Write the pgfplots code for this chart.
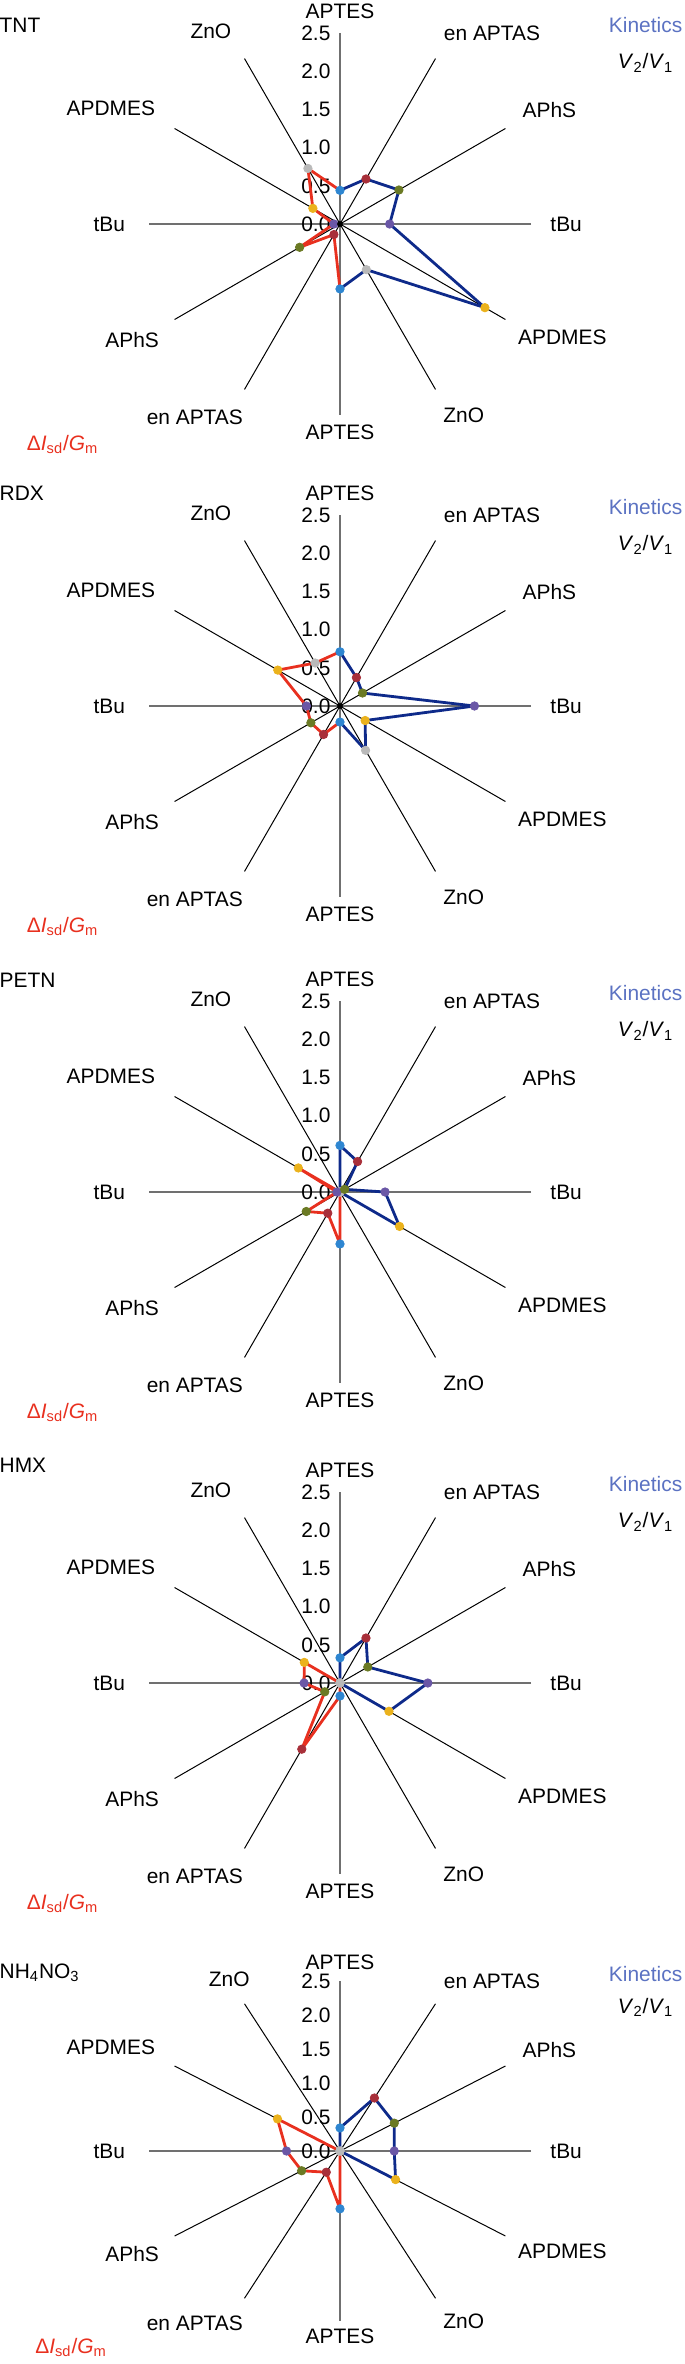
\documentclass[border=0pt]{standalone}
\usepackage{fontspec}
\setmainfont{Liberation Sans}
\usepackage{pgfplots}
\pgfplotsset{compat=1.18}
\definecolor{cAPTES}{HTML}{2E86D1}
\definecolor{cEN}{HTML}{A8303A}
\definecolor{cAPHS}{HTML}{6B7A24}
\definecolor{cTBU}{HTML}{6A57A6}
\definecolor{cAPDMES}{HTML}{EBB21C}
\definecolor{cZNO}{HTML}{B9B9B9}
\definecolor{kinline}{HTML}{0E2A8A}
\definecolor{disline}{HTML}{E8301F}
\definecolor{kintext}{HTML}{5B72C2}
\definecolor{spokegray}{HTML}{707070}

\pgfplotsset{
  radar/.style={hide axis, clip=false, anchor=center,
    xmin=-2.6, xmax=2.6, ymin=-2.6, ymax=2.6, x=38.2bp, y=38.2bp},
  hspoke/.style={draw=spokegray, line width=0.6bp, data cs=polar, mark=none},
  dspoke/.style={draw=black, line width=0.5bp, data cs=polar, mark=none},
  kin/.style={draw=kinline, line width=1.4bp, data cs=polar, mark=none, line join=round},
  dis/.style={draw=disline, line width=1.4bp, data cs=polar, mark=none, line join=round},
  dot/.style={only marks, data cs=polar, mark=*, mark size=2.1bp, mark options={draw=#1, fill=#1}},
}
\tikzset{lab/.style={font=\fontsize{10.5}{12}\selectfont, inner sep=0pt}}

% spokes, category names, ticks and the two series labels
\newcommand{\radarframe}[4]{%
  \addplot[hspoke] coordinates {(90,2.5) (270,2.5)};
  \addplot[hspoke] coordinates {(0,2.5) (180,2.5)};
  \addplot[dspoke] coordinates {(30,2.5) (210,2.5)};
  \addplot[dspoke] coordinates {(60,2.5) (240,2.5)};
  \addplot[dspoke] coordinates {(120,2.5) (300,2.5)};
  \addplot[dspoke] coordinates {(150,2.5) (330,2.5)};
  \node[lab] at (axis cs:0,2.78) {APTES};
  \node[lab] at (axis cs:#3,2.52) {ZnO};
  \node[lab] at (axis cs:1.99,2.50) {en APTAS};
  \node[lab] at (axis cs:-3.00,1.52) {APDMES};
  \node[lab] at (axis cs:2.74,1.49) {APhS};
  \node[lab] at (axis cs:-3.02,0) {tBu};
  \node[lab] at (axis cs:2.96,0) {tBu};
  \node[lab] at (axis cs:-2.72,-1.52) {APhS};
  \node[lab] at (axis cs:2.91,-1.48) {APDMES};
  \node[lab] at (axis cs:-1.90,-2.53) {en APTAS};
  \node[lab] at (axis cs:1.62,-2.51) {ZnO};
  \node[lab] at (axis cs:0,-2.73) {APTES};
  \node[lab, anchor=east] at (axis cs:-0.12,0) {0.0};
  \node[lab, anchor=east] at (axis cs:-0.12,0.5) {0.5};
  \node[lab, anchor=east] at (axis cs:-0.12,1.0) {1.0};
  \node[lab, anchor=east] at (axis cs:-0.12,1.5) {1.5};
  \node[lab, anchor=east] at (axis cs:-0.12,2.0) {2.0};
  \node[lab, anchor=east] at (axis cs:-0.12,2.5) {2.5};
  \node[lab, anchor=west] at (axis cs:-4.46,#2) {#1};
  \node[lab, text=kintext] at (axis cs:4.0,2.60) {Kinetics};
  \node[lab] at (axis cs:4.0,2.11) {\textit{V}\textsubscript{2}/\textit{V}\textsubscript{1}};
  \node[lab, text=disline] at (axis cs:#4,-2.89) {Δ\textit{I}\textsubscript{sd}/\textit{G}\textsubscript{m}};
}

\begin{document}
\begin{tikzpicture}

% TNT
\begin{axis}[radar, at={(170bp,-112bp)}]
\radarframe{TNT}{2.60}{-1.69}{-3.63}
\addplot[kin] coordinates {(90,0.44) (60,0.68) (30,0.89) (0,0.65) (-30,2.19) (-60,0.69) (-90,0.85)};
\addplot[dis] coordinates {(90,0.44) (120,0.84) (150,0.41) (180,0.08) (210,0.61) (240,0.16) (270,0.85)};
\addplot[dot=cAPTES] coordinates {(90,0.44) (270,0.85)};
\addplot[dot=cEN] coordinates {(60,0.68) (240,0.16)};
\addplot[dot=cAPHS] coordinates {(30,0.89) (210,0.61)};
\addplot[dot=cTBU] coordinates {(0,0.65) (180,0.08)};
\addplot[dot=cAPDMES] coordinates {(-30,2.19) (150,0.41)};
\addplot[dot=cZNO] coordinates {(-60,0.69) (120,0.84)};
\addplot[only marks, mark=*, mark size=1.2bp, black] coordinates {(0,0)};
\end{axis}

% RDX
\begin{axis}[radar, at={(170bp,-353bp)}]
\radarframe{RDX}{2.79}{-1.69}{-3.63}
\addplot[kin] coordinates {(90,0.71) (60,0.43) (30,0.34) (0,1.76) (-30,0.38) (-60,0.67) (-90,0.21)};
\addplot[dis] coordinates {(90,0.71) (120,0.65) (150,0.94) (180,0.44) (210,0.44) (240,0.43) (270,0.21)};
\addplot[dot=cAPTES] coordinates {(90,0.71) (270,0.21)};
\addplot[dot=cEN] coordinates {(60,0.43) (240,0.43)};
\addplot[dot=cAPHS] coordinates {(30,0.34) (210,0.44)};
\addplot[dot=cTBU] coordinates {(0,1.76) (180,0.44)};
\addplot[dot=cAPDMES] coordinates {(-30,0.38) (150,0.94)};
\addplot[dot=cZNO] coordinates {(-60,0.67) (120,0.65)};
\addplot[only marks, mark=*, mark size=1.2bp, black] coordinates {(0,0)};
\end{axis}

% PETN
\begin{axis}[radar, at={(170bp,-596bp)}]
\radarframe{PETN}{2.77}{-1.69}{-3.63}
\addplot[kin] coordinates {(90,0.61) (60,0.46) (30,0.07) (0,0.59) (-30,0.90) (-60,0) (90,0.61)};
\addplot[dis] coordinates {(120,0) (150,0.63) (180,0.04) (210,0.51) (240,0.32) (270,0.68) (120,0)};
\addplot[dot=cZNO] coordinates {(-60,0) (120,0)};
\addplot[dot=cAPTES] coordinates {(90,0.61) (270,0.68)};
\addplot[dot=cEN] coordinates {(60,0.46) (240,0.32)};
\addplot[dot=cTBU] coordinates {(0,0.59) (180,0.04)};
\addplot[dot=cAPHS] coordinates {(30,0.07) (210,0.51)};
\addplot[dot=cAPDMES] coordinates {(-30,0.90) (150,0.63)};
\end{axis}

% HMX
\begin{axis}[radar, at={(170bp,-841.5bp)}]
\radarframe{HMX}{2.85}{-1.69}{-3.63}
\addplot[kin] coordinates {(90,0.33) (60,0.68) (30,0.42) (0,1.15) (-30,0.74) (-60,0) (90,0.33)};
\addplot[dis] coordinates {(120,0) (150,0.54) (180,0.47) (210,0.23) (240,1.00) (270,0.17) (120,0)};
\addplot[dot=cAPTES] coordinates {(90,0.33) (270,0.17)};
\addplot[dot=cEN] coordinates {(60,0.68) (240,1.00)};
\addplot[dot=cAPHS] coordinates {(30,0.42) (210,0.23)};
\addplot[dot=cTBU] coordinates {(0,1.15) (180,0.47)};
\addplot[dot=cAPDMES] coordinates {(-30,0.74) (150,0.54)};
\addplot[dot=cZNO] coordinates {(-60,0) (120,0)};
\end{axis}

% NH4NO3 (drawn slightly squashed in height, as in the reference)
\begin{axis}[radar, y=34bp, at={(170bp,-1075.5bp)}]
\radarframe{NH\textsubscript{4}NO\textsubscript{3}}{2.62}{-1.45}{-3.52}
\addplot[kin] coordinates {(90,0.34) (60,0.90) (30,0.82) (0,0.71) (-30,0.84) (-60,0) (90,0.34)};
\addplot[dis] coordinates {(120,0) (150,0.945) (180,0.70) (210,0.58) (240,0.36) (270,0.85) (120,0)};
\addplot[dot=cAPTES] coordinates {(90,0.34) (270,0.85)};
\addplot[dot=cEN] coordinates {(60,0.90) (240,0.36)};
\addplot[dot=cAPHS] coordinates {(30,0.82) (210,0.58)};
\addplot[dot=cTBU] coordinates {(0,0.71) (180,0.70)};
\addplot[dot=cAPDMES] coordinates {(-30,0.84) (150,0.945)};
\addplot[dot=cZNO] coordinates {(-60,0) (120,0)};
\end{axis}

\pgfresetboundingbox
\path[use as bounding box] (0,0) rectangle (342.5bp,-1182bp);
\end{tikzpicture}
\end{document}
